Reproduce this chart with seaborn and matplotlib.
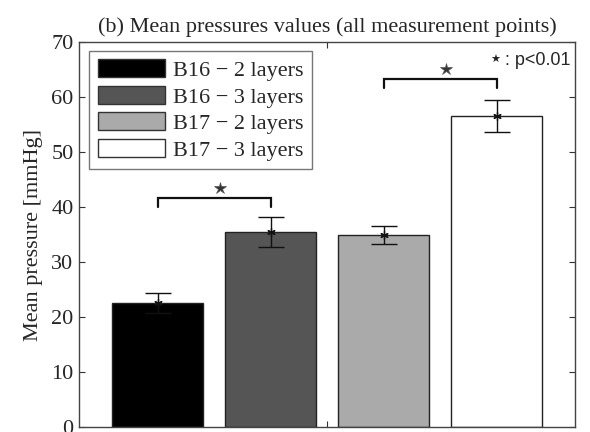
import matplotlib
matplotlib.use("Agg")
import matplotlib.pyplot as plt
import seaborn as sns
import pandas as pd
import numpy as np

categories = ["B16 \u2212 2 layers", "B16 \u2212 3 layers", "B17 \u2212 2 layers", "B17 \u2212 3 layers"]
means = [22.6, 35.4, 34.9, 56.5]
errors = [1.8, 2.7, 1.7, 2.9]
colors = ["#000000", "#555555", "#aaaaaa", "#ffffff"]
yticks = [0, 10, 20, 30, 40, 50, 60, 70]
# significance brackets: (bar index a, bar index b, bracket height, leg bottom)
brackets = [(0, 1, 41.7, 40.0), (2, 3, 63.3, 61.7)]

sns.set_style("white")
plt.rcParams["font.family"] = ["Liberation Serif", "DejaVu Serif"]

df = pd.DataFrame({"group": ["g"] * 4, "cond": categories, "mean": means})

fig = plt.figure(figsize=(5.9, 4.32), dpi=100)
ax = fig.add_axes([0.134, 0.0116, 0.841, 0.891])

sns.barplot(data=df, x="group", y="mean", hue="cond", hue_order=categories,
            palette=colors, width=0.8, gap=0.2, errorbar=None,
            edgecolor="#222222", linewidth=1.0, ax=ax)

# bar centres from the drawn patches
bars = [p for p in ax.patches if p.get_height() > 0][:4]
xs = [p.get_x() + p.get_width() / 2 for p in bars]
ax.errorbar(xs, means, yerr=errors, fmt="none", ecolor="#111111",
            elinewidth=1.0, capsize=9.5, capthick=1.0, zorder=5)
ax.plot(xs, means, linestyle="none", marker=(6, 2, 0), markersize=6,
        color="#111111", markeredgewidth=0.9, zorder=6)

for a, b, h, lo in brackets:
    ax.plot([xs[a], xs[a], xs[b], xs[b]], [lo, h, h, lo], color="#111111", lw=1.6,
            solid_joinstyle="miter")
    ax.plot([(xs[a] + xs[b]) / 2 + 0.01], [h + 1.8], marker="*", markersize=9,
            color="#333333", markeredgecolor="#555555", markeredgewidth=0.5)

ptxt = ax.text(0.99, 0.975, ": p<0.01", transform=ax.transAxes, ha="right", va="top",
               fontsize=13, family=["Liberation Sans", "DejaVu Sans"])
ax.annotate("\u2605", xy=(0, 0.5), xycoords=ptxt, xytext=(-3, 0), textcoords="offset points",
            ha="right", va="center", fontsize=8, color="#222222",
            family=["DejaVu Sans"])

ax.set_xlim(-0.439, 0.439)
ax.set_ylim(0, 70)
ax.set_yticks(yticks)
ax.set_xticks([0])
ax.set_xticklabels([""])
ax.set_xlabel("")
ax.set_ylabel("Mean pressure [mmHg]", fontsize=16, labelpad=6)
ax.set_title("(b) Mean pressures values (all measurement points)", fontsize=16, pad=7)
ax.tick_params(axis="y", labelsize=16, direction="in", length=4, right=True, left=True,
               color="#333333", pad=4)
ax.tick_params(axis="x", direction="in", length=4, top=True, bottom=True, color="#333333")
for s in ax.spines.values():
    s.set_color("#444444")
    s.set_linewidth(1.0)

leg = ax.legend(loc="upper left", bbox_to_anchor=(0.02, 0.978), fontsize=16,
                frameon=True, fancybox=False, edgecolor="#555555",
                handlelength=3.0, handleheight=0.86, labelspacing=0.22,
                handletextpad=0.36, borderpad=0.4, borderaxespad=0)
leg.get_frame().set_linewidth(1.0)
for h in leg.legend_handles:
    h.set_edgecolor("#333333")

fig.savefig("out.png", dpi=100)
